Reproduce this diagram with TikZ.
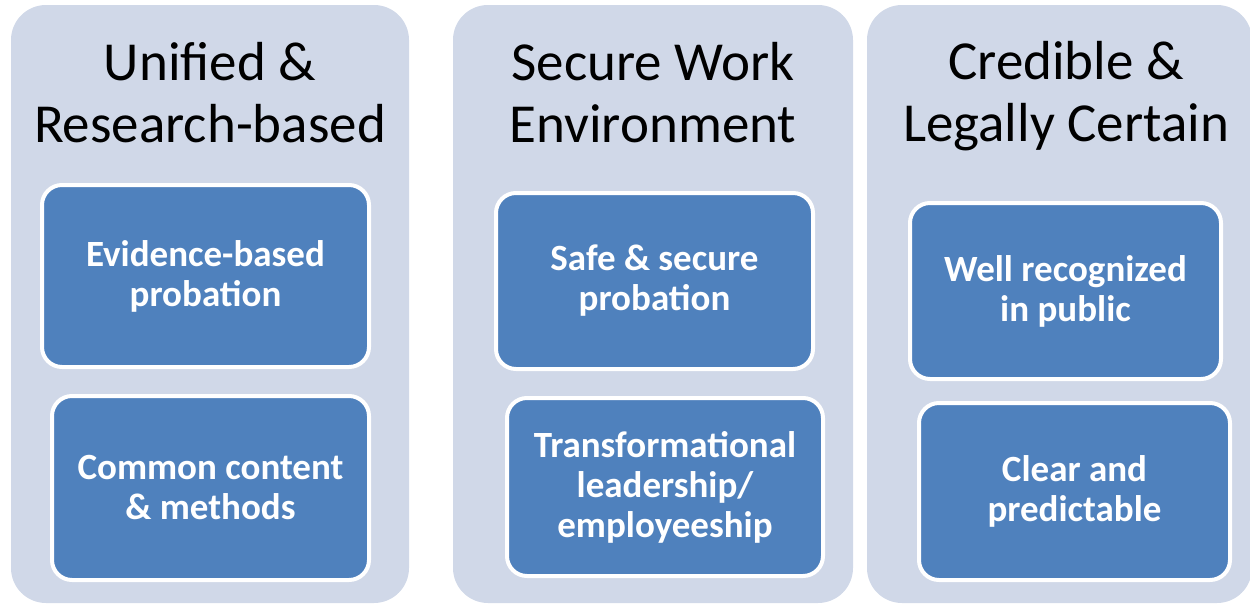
\documentclass[tikz,border=0pt]{standalone}
\usepackage{fontspec}
\setmainfont{Carlito}
\definecolor{panelgray}{HTML}{D0D8E8}
\definecolor{boxblue}{HTML}{4F81BD}
\tikzset{
    panel/.style={rectangle, rounded corners=17.5pt, fill=panelgray,
        inner sep=0pt, outer sep=0pt, minimum height=299pt},
    title/.style={align=center, font=\fontsize{27.5}{31}\selectfont, text=black},
    goal/.style={rectangle, rounded corners=10pt, fill=boxblue, draw=white,
        line width=2pt, align=center, inner sep=0pt, outer sep=0pt,
        text=white, font=\fontsize{18.5}{20}\selectfont\bfseries}
}
\begin{document}
\begin{tikzpicture}[
        x=0.5pt,
        y=-0.5pt]
\useasboundingbox (0,0) rectangle (1250,605);
% columns
\node (p1) [panel, minimum width=199pt] at (210,304) {};
\node (p2) [panel, minimum width=200pt] at (653,304) {};
\node (p3) [panel, minimum width=192.5pt] at (1059.5,304) {};
% headings
\node (t1) [title] at (210,93) {Unified \&\\Research-based};
\node (t2) [title] at (653,93) {Secure Work\\Environment};
\node (t3) [title] at (1066,96) {Credible \&\\Legally Certain};
% boxes
\node (b11) [goal, minimum width=163.5pt, minimum height=91pt] at (205.5,276) {Evidence-based\\probation};
\node (b12) [goal, minimum width=158.5pt, minimum height=92pt] at (210.5,488) {Common content\\\& methods};
\node (b21) [goal, minimum width=158.5pt, minimum height=88pt] at (654.5,281) {Safe \& secure\\probation};
\node (b22) [goal, minimum width=158pt, minimum height=89pt] at (665,487) {Transformational\\leadership/\\employeeship};
\node (b31) [goal, minimum width=155.5pt, minimum height=88pt] at (1065.5,291) {Well recognized\\in public};
\node (b32) [goal, minimum width=155.5pt, minimum height=88.5pt] at (1074.5,491.5) {Clear and\\predictable};
\end{tikzpicture}
\end{document}
